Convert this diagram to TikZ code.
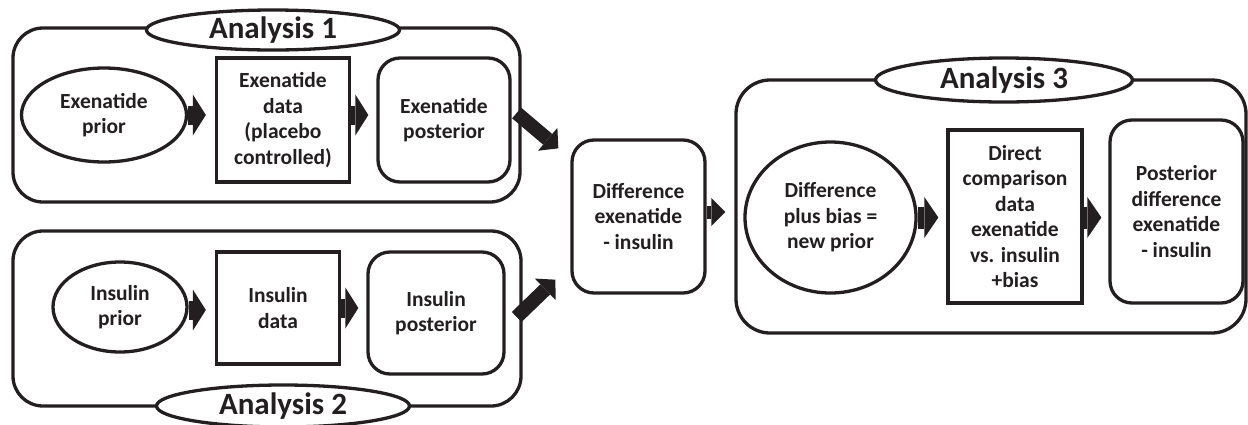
\documentclass[tikz,border=0pt]{standalone}
\usepackage{fontspec}
\setmainfont{Carlito}
\usetikzlibrary{shapes.geometric,arrows.meta,calc}
\definecolor{ink}{RGB}{35,31,32}
\begin{document}
\begin{tikzpicture}[x=1pt,y=-1pt,
  every node/.style={font=\bfseries\fontsize{21.5}{25.5}\selectfont, text=ink, align=center, inner sep=0pt},
  bd/.style={draw=ink, line width=3.3pt, fill=white},
  oval/.style={bd, ellipse},
  sq/.style={bd, rectangle},
  rnd/.style={bd, rectangle, rounded corners=22pt},
  frame/.style={bd, rectangle, rounded corners=30pt},
  ttl/.style={bd, ellipse, font=\bfseries\fontsize{31}{36}\selectfont},
  bigarrow/.style={draw=ink, line width=19pt, -{Triangle[length=13pt,width=41pt,line width=0pt]}},
  midarrow/.style={draw=ink, line width=22pt, -{Triangle[length=14pt,width=41pt,line width=0pt]}},
  smallarrow/.style={draw=ink, line width=13pt, -{Triangle[length=14pt,width=28pt,line width=0pt]}},
  diagarrow/.style={draw=ink, line width=14pt, -{Triangle[length=14pt,width=30pt,line width=0pt]}}
]
\path[fill=white,use as bounding box] (0,0) rectangle (1248,424);

% containers
\node[frame, minimum width=507pt, minimum height=174pt] (a1) at (266.5,115) {};
\node[frame, minimum width=508pt, minimum height=175pt] (a2) at (267,318.5) {};
\node[frame, rounded corners=34pt, minimum width=510pt, minimum height=253pt] (a3) at (991,206.5) {};

% Analysis 1
\node[oval, minimum width=165pt, minimum height=94pt] (exprior) at (104,115) {Exenatide\\prior};
\node[sq, minimum width=133pt, minimum height=124pt] (exdata) at (283,120) {Exenatide\\data\\(placebo\\controlled)};
\node[rnd, minimum width=132pt, minimum height=124pt] (expost) at (444,120) {Exenatide\\posterior};

% Analysis 2
\node[oval, minimum width=134pt, minimum height=90pt] (inprior) at (120,307) {Insulin\\prior};
\node[sq, minimum width=123pt, minimum height=112pt] (indata) at (278,308) {Insulin\\data};
\node[rnd, minimum width=136pt, minimum height=122pt] (inpost) at (436,313) {Insulin\\posterior};

% Difference
\node[rnd, minimum width=133pt, minimum height=153pt] (diff) at (638.5,216.5) {Difference\\exenatide\\- insulin};

% Analysis 3
\node[oval, minimum width=171pt, minimum height=151pt] (newprior) at (830.5,217.5) {Difference\\plus bias =\\new prior};
\node[sq, minimum width=134pt, minimum height=173pt] (direct) at (1015,216.5) {Direct\\comparison\\data\\exenatide\\vs. insulin\\+bias};
\node[rnd, minimum width=133pt, minimum height=183pt] (postdiff) at (1176.5,211.5) {Posterior\\difference\\exenatide\\- insulin};

% titles
\node[ttl, minimum width=253pt, minimum height=40pt] (t1) at (273,30) {Analysis 1};
\node[ttl, minimum width=253pt, minimum height=42pt] (t2) at (283,406) {Analysis 2};
\node[ttl, minimum width=257pt, minimum height=44pt] (t3) at (1004,80) {Analysis 3};

% arrows
\draw[bigarrow, shorten >=9pt] (exprior.east) -- (exprior.east -| exdata.west);
\draw[bigarrow, shorten >=8pt] (exdata.east |- exprior.east) -- (exprior.east -| expost.west);
\draw[bigarrow, shorten >=9pt] (inprior.east |- 0,310) -- (indata.west |- 0,310);
\draw[bigarrow, shorten >=8pt] (indata.east) -- (indata.east -| inpost.west);
\draw[smallarrow, shorten >=9pt] (diff.east |- 0,212) -- (a3.west |- 0,212);
\draw[midarrow, shorten >=8pt] (newprior.east) -- (newprior.east -| direct.west);
\draw[midarrow, shorten >=7pt] (direct.east |- newprior.east) -- (newprior.east -| postdiff.west);

\coordinate (u1) at ($(a1.east)+(-5,-2)$);
\coordinate (u2) at ($(diff.north west)+(-12,10)$);
\coordinate (l1) at ($(a2.east)+(-6,-1.5)$);
\coordinate (l2) at ($(diff.south west)+(-15,-15)$);
\draw[diagarrow] (u1) -- (u2);
\draw[diagarrow] (l1) -- (l2);
\end{tikzpicture}
\end{document}
